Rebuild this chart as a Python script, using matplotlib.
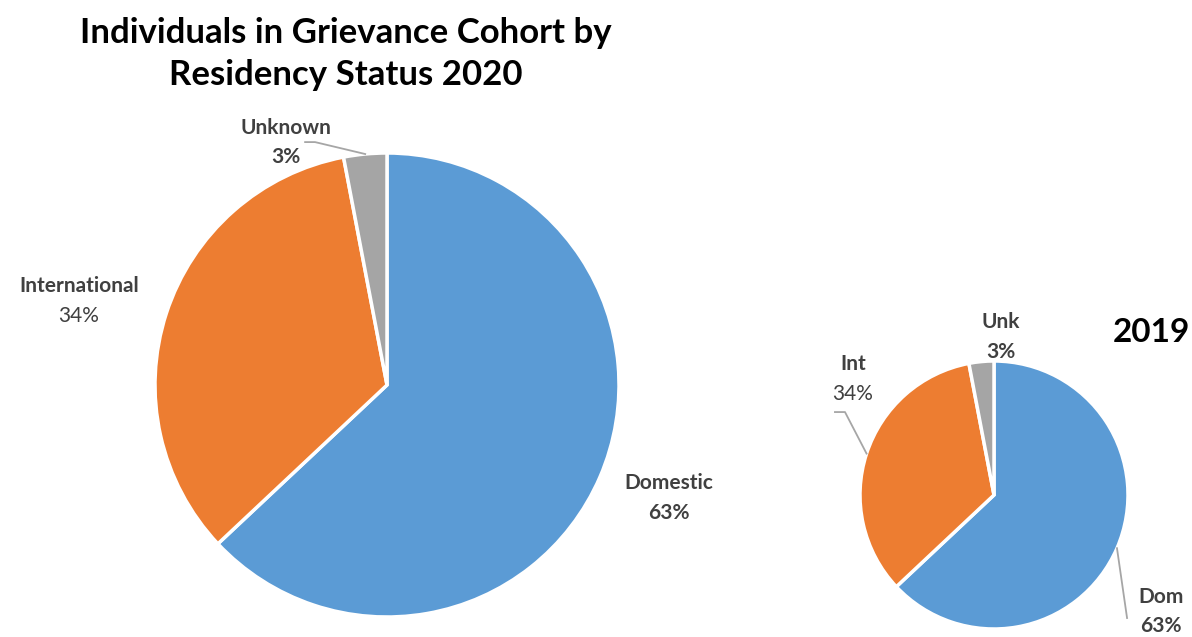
import numpy as np
import matplotlib.pyplot as plt
from matplotlib.lines import Line2D

plt.rcParams['font.family'] = ['Lato', 'DejaVu Sans']

categories = ['Domestic', 'International', 'Unknown']
short_names = ['Dom', 'Int', 'Unk']
share_2020 = [63, 34, 3]
share_2019 = [63, 34, 3]
colors = ['#5B9BD5', '#ED7D31', '#A5A5A5']
TXT = '#404040'

W, H = 1192, 637
fig = plt.figure(figsize=(W / 100, H / 100), dpi=100)


def pie_axes(cx, cy, r):
    # axes placed in pixel terms, pie radius = 1 data unit
    ax = fig.add_axes([(cx - r) / W, (H - cy - r) / H, 2 * r / W, 2 * r / H])
    return ax


def fix_limits(ax):
    ax.set_xlim(-1, 1)
    ax.set_ylim(-1, 1)
    ax.set_aspect('equal')
    ax.axis('off')


def mid_angles(vals):
    vals = np.array(vals, dtype=float)
    cum = np.cumsum(vals) / vals.sum() * 360
    start = 90 - np.concatenate([[0], cum[:-1]])
    return np.radians(start - vals / vals.sum() * 180)


def label(ax, x, y, name, pct, bold_pct=True, size=15):
    ax.annotate(name, (x, y), xytext=(0, 10.5), textcoords='offset points',
                ha='center', va='center', fontsize=size, fontweight='bold',
                color=TXT, annotation_clip=False)
    ax.annotate(pct, (x, y), xytext=(0, -10.5), textcoords='offset points',
                ha='center', va='center', fontsize=size,
                fontweight='bold' if bold_pct else 'normal', color=TXT,
                annotation_clip=False)


def leader(ax, pts):
    xs, ys = zip(*pts)
    ax.add_line(Line2D(xs, ys, color='#A6A6A6', lw=1.3, clip_on=False))


# 2020 pie
ax1 = pie_axes(387, 385, 232)
ax1.pie(share_2020, colors=colors, startangle=90, counterclock=False, radius=1,
        wedgeprops=dict(edgecolor='white', linewidth=2.5))
fix_limits(ax1)
ang = mid_angles(share_2020)
label(ax1, 1.216, -0.487, categories[0], f'{share_2020[0]}%')
label(ax1, -1.328, 0.362, categories[1], f'{share_2020[1]}%', bold_pct=False)
label(ax1, -0.435, 1.045, categories[2], f'{share_2020[2]}%')
leader(ax1, [(-0.353, 1.047), (-0.31, 1.047), (np.cos(ang[2]), np.sin(ang[2]))])

# 2019 pie
ax2 = pie_axes(994, 495, 134)
ax2.pie(share_2019, colors=colors, startangle=90, counterclock=False, radius=1,
        wedgeprops=dict(edgecolor='white', linewidth=2.5))
fix_limits(ax2)
ang = mid_angles(share_2019)
label(ax2, 1.246, -0.87, short_names[0], f'{share_2019[0]}%')
label(ax2, -1.052, 0.866, short_names[1], f'{share_2019[1]}%', bold_pct=False)
label(ax2, 0.052, 1.179, short_names[2], f'{share_2019[2]}%')
leader(ax2, [(-1.187, 0.619), (-1.112, 0.619), (np.cos(ang[1]), np.sin(ang[1]))])
leader(ax2, [(np.cos(ang[0]), np.sin(ang[0])), (0.993, -0.918)])

fig.text(346 / W, 1 - 54 / H, 'Individuals in Grievance Cohort by\nResidency Status 2020',
         ha='center', va='center', fontsize=25, fontweight='bold', color='black',
         linespacing=1.38)
fig.text(1151 / W, 1 - 333 / H, '2019', ha='center', va='center', fontsize=24,
         fontweight='bold', color='black')

fig.savefig('out.png', dpi=100)
